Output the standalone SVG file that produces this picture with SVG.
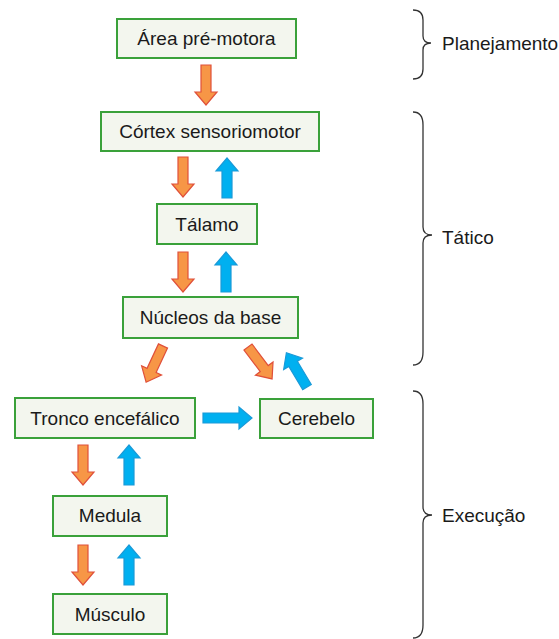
<svg xmlns="http://www.w3.org/2000/svg" xmlns:xlink="http://www.w3.org/1999/xlink" width="559" height="639" viewBox="0 0 559 639">
<style>
.box{fill:#f3f6ee;stroke:#3aa13a;stroke-width:2}
.lbl{font-family:"Liberation Sans",Arial,sans-serif;font-size:19px;fill:#1a1a1a;text-anchor:middle}
.side{font-family:"Liberation Sans",Arial,sans-serif;font-size:19px;fill:#1a1a1a}
.or{fill:#f79646;stroke:#e0503a;stroke-width:1.2;stroke-linejoin:miter}
.bl{fill:#00b0f0;stroke:#1a9ad8;stroke-width:1.2}
.brace{fill:none;stroke:#333;stroke-width:1.3}
</style>
<defs>
<path id="arr" d="M-5,0 H5 V27 H11 L0,40 L-11,27 H-5 Z"/>
</defs>
<rect width="559" height="639" fill="#fff"/>
<g id="n-premotora"><rect class="box" x="117" y="19" width="179" height="39"/><text class="lbl" x="206.5" y="45">Área pré-motora</text></g>
<g id="n-cortex"><rect class="box" x="101" y="112" width="218" height="39"/><text class="lbl" x="210" y="138">Córtex sensoriomotor</text></g>
<g id="n-talamo"><rect class="box" x="157" y="204" width="100" height="40"/><text class="lbl" x="207" y="231">Tálamo</text></g>
<g id="n-nucleos"><rect class="box" x="123" y="297" width="175" height="41"/><text class="lbl" x="210.5" y="324">Núcleos da base</text></g>
<g id="n-tronco"><rect class="box" x="15" y="398" width="180" height="40"/><text class="lbl" x="105" y="425">Tronco encefálico</text></g>
<g id="n-cerebelo"><rect class="box" x="260" y="399" width="113" height="39"/><text class="lbl" x="316.5" y="425">Cerebelo</text></g>
<g id="n-medula"><rect class="box" x="53" y="496" width="114" height="40"/><text class="lbl" x="110" y="522">Medula</text></g>
<g id="n-musculo"><rect class="box" x="53" y="594" width="114" height="40"/><text class="lbl" x="110" y="621">Músculo</text></g>
<g id="connectors">
<use xlink:href="#arr" class="or" transform="translate(206,65)"/>
<use xlink:href="#arr" class="or" transform="translate(183,157)"/>
<use xlink:href="#arr" class="bl" transform="translate(227,198) rotate(180)"/>
<use xlink:href="#arr" class="or" transform="translate(183,252)"/>
<use xlink:href="#arr" class="bl" transform="translate(226,292) rotate(180)"/>
<use xlink:href="#arr" class="or" transform="translate(163,346) rotate(25)"/>
<use xlink:href="#arr" class="or" transform="translate(248,347) rotate(-37)"/>
<use xlink:href="#arr" class="bl" transform="translate(307,387) rotate(149)"/>
<path class="bl" d="M203,413 H239 V407 L252,418 L239,429 V423 H203 Z"/>
<use xlink:href="#arr" class="or" transform="translate(83,445)"/>
<use xlink:href="#arr" class="bl" transform="translate(129,485) rotate(180)"/>
<use xlink:href="#arr" class="or" transform="translate(83,545)"/>
<use xlink:href="#arr" class="bl" transform="translate(129,585) rotate(180)"/>
</g>
<g id="b-planejamento"><path class="brace" d="M413,10 Q423,10 423,20 V36 Q423,43 431,43 Q423,43 423,50 V69 Q423,79 413,79"/><text class="side" x="442" y="50">Planejamento</text></g>
<g id="b-tatico"><path class="brace" d="M413,112 Q423,112 423,125 V227 Q423,235 432,235 Q423,235 423,243 V352 Q423,365 413,365"/><text class="side" x="442" y="244">Tático</text></g>
<g id="b-execucao"><path class="brace" d="M413,391 Q423,391 423,404 V507 Q423,515 432,515 Q423,515 423,523 V625 Q423,638 413,638"/><text class="side" x="442" y="522">Execução</text></g>
</svg>
